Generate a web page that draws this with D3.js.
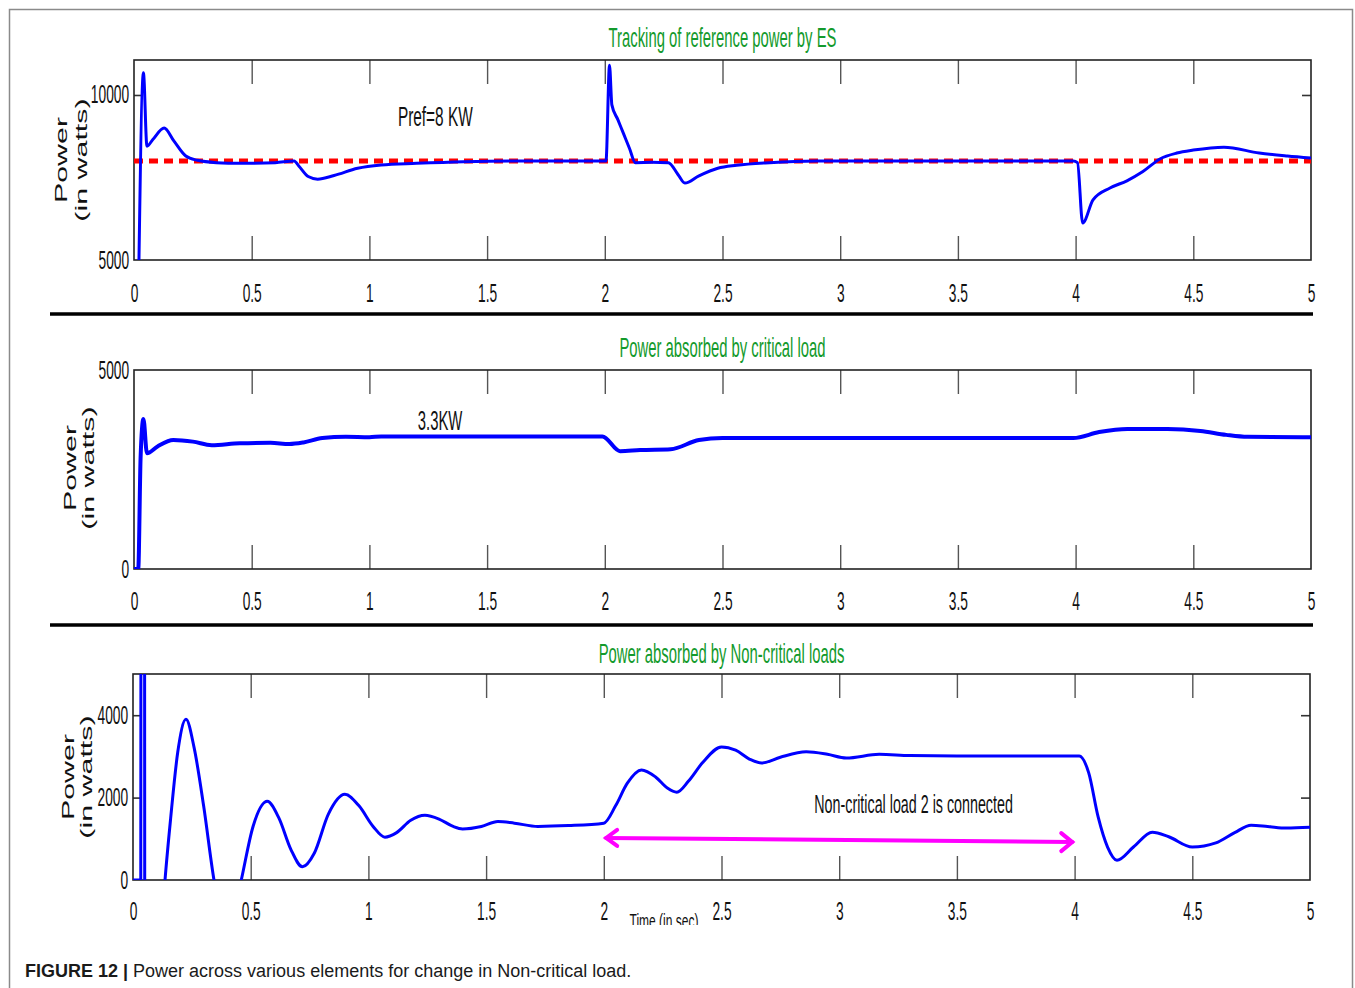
<!DOCTYPE html>
<html>
<head>
<meta charset="utf-8">
<script src="https://cdnjs.cloudflare.com/ajax/libs/d3/7.8.5/d3.min.js"></script>
<style>
    body { margin: 0; background: #fff; }
    svg { display: block; }
</style>
</head>
<body>
<svg id="chart" width="1355" height="988"></svg>
<script>
// time axis (seconds)
var timeTicks = [0, 0.5, 1, 1.5, 2, 2.5, 3, 3.5, 4, 4.5, 5];
var timeTickLabels = ["0", "0.5", "1", "1.5", "2", "2.5", "3", "3.5", "4", "4.5", "5"];

// ES power tracking the reference
var esTime = [0.02, 0.04, 0.055, 0.08, 0.128, 0.17, 0.22, 0.27, 0.35, 0.45, 0.6, 0.68, 0.70, 0.74, 0.78, 0.85, 0.95, 1.05, 1.2, 1.4, 1.6, 1.99,
    2.005, 2.02, 2.03, 2.055, 2.08, 2.105, 2.13, 2.2, 2.27, 2.31, 2.34, 2.40, 2.48, 2.56, 2.7, 2.9, 3.99,
    4.008, 4.03, 4.074, 4.146, 4.218, 4.286, 4.358, 4.43, 4.5, 4.63, 4.78, 4.9, 5.0];
var esPower = [4500, 10670, 8450, 8650, 9000, 8600, 8150, 8020, 7950, 7930, 7950, 8000, 7850, 7530, 7450, 7560, 7780, 7880, 7930, 7980, 8000, 8000,
    8000, 10900, 9700, 9260, 8820, 8380, 7950, 7960, 7950, 7600, 7330, 7550, 7780, 7870, 7950, 8000, 8000,
    7950, 6120, 6820, 7180, 7400, 7680, 8060, 8240, 8330, 8420, 8240, 8150, 8090];
var refTime = [0, 5];
var refPower = [8000, 8000];

// critical load
var criticalTime = [0, 0.018, 0.028, 0.04, 0.055, 0.1, 0.167, 0.25, 0.33, 0.45, 0.58, 0.66, 0.72, 0.80, 0.9, 1.0, 1.05, 1.99,
    2.065, 2.15, 2.28, 2.4, 2.5, 3.99, 4.1, 4.22, 4.39, 4.53, 4.64, 4.73, 5.0];
var criticalPower = [0, 0, 2800, 3770, 2910, 3080, 3240, 3200, 3110, 3160, 3170, 3140, 3180, 3290, 3320, 3310, 3330, 3330,
    2960, 2990, 3010, 3240, 3290, 3290, 3440, 3520, 3520, 3470, 3370, 3320, 3310];

// non-critical loads
var nonCriticalTime = [0, 0.033, 0.034, 0.049, 0.05, 0.09, 0.136, 0.16, 0.19, 0.225, 0.26, 0.30, 0.344, 0.40, 0.46, 0.51, 0.57, 0.62, 0.67, 0.72,
    0.77, 0.83, 0.90, 0.96, 1.02, 1.07, 1.12, 1.18, 1.24, 1.30, 1.36, 1.40, 1.48, 1.55, 1.62, 1.72, 1.85, 2.0,
    2.05, 2.1, 2.16, 2.22, 2.27, 2.31, 2.36, 2.42, 2.5, 2.56, 2.62, 2.67, 2.75, 2.86, 2.95, 3.03, 3.17, 3.3, 3.5, 4.02,
    4.06, 4.1, 4.14, 4.18, 4.25, 4.33, 4.4, 4.5, 4.6, 4.68, 4.75, 4.82, 4.9, 5.0];
var nonCriticalPower = [0, 0, 9000, 9000, -3000, -4000, 0, 1500, 3100, 3900, 3200, 1800, 0, -1500, 0, 1300, 1910, 1500, 750, 320,
    650, 1600, 2080, 1800, 1300, 1040, 1150, 1450, 1570, 1480, 1300, 1240, 1300, 1420, 1380, 1300, 1320, 1380,
    1800, 2350, 2670, 2500, 2230, 2130, 2400, 2850, 3230, 3150, 2930, 2840, 2980, 3110, 3050, 2960, 3050, 3020, 3010, 3010,
    2600, 1530, 800, 480, 800, 1160, 1050, 800, 900, 1150, 1330, 1300, 1260, 1280];

// y ticks
var esYTicks = [5000, 10000];
var criticalYTicks = [0, 5000];
var nonCriticalYTicks = [0, 2000, 4000];

// "load 2 connected" arrow
var arrowTime = [2.01, 3.99];
var arrowPower = [1020, 920];

var NARROW = "'Liberation Sans', Arial, sans-serif";
var SANS = "'Liberation Sans', Arial, sans-serif";
var SQUISH = 0.55;

var svg = d3.select("#chart");

function Panel(options) {

    var _self = this;

    _self.id = options.id;
    _self.left = options.left;
    _self.right = options.right;
    _self.top = options.top;
    _self.bottom = options.bottom;

    _self.x = d3.scaleLinear().domain([0, 5]).range([_self.left, _self.right]);
    _self.y = d3.scaleLinear().domain(options.yDomain).range([_self.bottom, _self.top]);

    _self.g = svg.append("g").attr("class", "panel " + _self.id);

    _self.g.append("clipPath")
        .attr("id", "clip-" + _self.id)
        .append("rect")
        .attr("x", _self.left)
        .attr("y", _self.top)
        .attr("width", _self.right - _self.left)
        .attr("height", _self.bottom - _self.top);
}

function styleAxisText(axisG, size) {
    axisG.select(".domain").remove();
    axisG.selectAll("text")
        .style("font-family", NARROW)
        .style("font-size", size + "px")
        .attr("fill", "#111")
        .attr("transform", "scale(" + SQUISH + ",1)");
}

Panel.prototype.drawAxes = function (yTicks, innerYTicks, labelPad) {

    var _self = this;
    var innerX = timeTicks.slice(1, timeTicks.length - 1);

    // inward ticks on top and bottom edges
    var topTicks = _self.g.append("g")
        .attr("transform", "translate(0," + _self.top + ")")
        .call(d3.axisTop(_self.x).tickValues(innerX).tickSize(-24).tickSizeOuter(0).tickFormat(""));
    var bottomTicks = _self.g.append("g")
        .attr("transform", "translate(0," + _self.bottom + ")")
        .call(d3.axisBottom(_self.x).tickValues(innerX).tickSize(-24).tickSizeOuter(0).tickFormat(""));

    [topTicks, bottomTicks].forEach(function (a) {
        a.select(".domain").remove();
        a.selectAll("line").attr("stroke", "#555").attr("stroke-width", 1.4);
    });

    if (innerYTicks.length) {
        var leftTicks = _self.g.append("g")
            .attr("transform", "translate(" + _self.left + ",0)")
            .call(d3.axisLeft(_self.y).tickValues(innerYTicks).tickSize(-9).tickFormat(""));
        var rightTicks = _self.g.append("g")
            .attr("transform", "translate(" + _self.right + ",0)")
            .call(d3.axisRight(_self.y).tickValues(innerYTicks).tickSize(-9).tickFormat(""));
        [leftTicks, rightTicks].forEach(function (a) {
            a.select(".domain").remove();
            a.selectAll("line").attr("stroke", "#333").attr("stroke-width", 1.6);
        });
    }

    // tick labels
    var xLabels = _self.g.append("g")
        .attr("transform", "translate(0," + _self.bottom + ")")
        .call(d3.axisBottom(_self.x).tickValues(timeTicks).tickSize(0).tickPadding(labelPad)
            .tickFormat(function (d, i) { return timeTickLabels[i]; }));
    styleAxisText(xLabels, 25);

    var yLabels = _self.g.append("g")
        .attr("transform", "translate(" + _self.left + ",0)")
        .call(d3.axisLeft(_self.y).tickValues(yTicks).tickSize(0).tickPadding(9)
            .tickFormat(d3.format("d")));
    styleAxisText(yLabels, 25);

    // the box
    _self.g.append("rect")
        .attr("x", _self.left)
        .attr("y", _self.top)
        .attr("width", _self.right - _self.left)
        .attr("height", _self.bottom - _self.top)
        .attr("fill", "none")
        .attr("stroke", "#222")
        .attr("stroke-width", 1.6);
};

Panel.prototype.drawLine = function (time, values, color, width, dash, curve) {

    var _self = this;

    var line = d3.line()
        .x(function (d) { return _self.x(d[0]); })
        .y(function (d) { return _self.y(d[1]); })
        .curve(curve || d3.curveMonotoneX);

    _self.g.append("path")
        .datum(d3.zip(time, values))
        .attr("clip-path", "url(#clip-" + _self.id + ")")
        .attr("d", line)
        .attr("fill", "none")
        .attr("stroke", color)
        .attr("stroke-width", width)
        .attr("stroke-dasharray", dash || null)
        .attr("stroke-linejoin", "round");
};

Panel.prototype.title = function (text, y) {
    var _self = this;
    _self.g.append("text")
        .attr("transform", "translate(" + ((_self.left + _self.right) / 2) + "," + y + ") scale(" + SQUISH + ",1)")
        .attr("text-anchor", "middle")
        .style("font-family", NARROW)
        .style("font-size", "27px")
        .attr("fill", "#139a2c")
        .text(text);
};

Panel.prototype.note = function (text, t, v, size) {
    var _self = this;
    _self.g.append("text")
        .attr("transform", "translate(" + _self.x(t) + "," + _self.y(v) + ") scale(" + SQUISH + ",1)")
        .attr("text-anchor", "middle")
        .style("font-family", NARROW)
        .style("font-size", size + "px")
        .attr("fill", "#111")
        .text(text);
};

Panel.prototype.yLabel = function (x1, x2, cy) {
    var _self = this;
    [["Power", x1], ["(in watts)", x2]].forEach(function (p) {
        _self.g.append("text")
            .attr("transform", "translate(" + p[1] + "," + cy + ") rotate(-90) scale(1.9,1)")
            .attr("text-anchor", "middle")
            .style("font-family", SANS)
            .style("font-size", "16px")
            .attr("fill", "#111")
            .text(p[0]);
    });
};

// outer frame
svg.append("rect")
    .attr("x", 9.5).attr("y", 9.5)
    .attr("width", 1343).attr("height", 1000)
    .attr("fill", "none")
    .attr("stroke", "#8a8a8a")
    .attr("stroke-width", 1.5);

// panel 1
var es = new Panel({ id: "es", left: 134, right: 1311, top: 60, bottom: 260, yDomain: [5000, 11060] });
es.drawAxes(esYTicks, [10000], 24);
es.drawLine(refTime, refPower, "#ff0000", 5, "9,6", d3.curveLinear);
es.drawLine(esTime, esPower, "#0000ff", 3);
es.title("Tracking of reference power by ES", 47);
es.note("Pref=8 KW", 1.28, 9060, 28);
es.yLabel(67, 87, 160);

// panel 2
var critical = new Panel({ id: "crit", left: 134, right: 1311, top: 370, bottom: 569, yDomain: [0, 5000] });
critical.drawAxes(criticalYTicks, [], 23);
critical.drawLine(criticalTime, criticalPower, "#0000ff", 4);
critical.title("Power absorbed by critical load", 357);
critical.note("3.3KW", 1.3, 3500, 27);
critical.yLabel(76, 94, 468);

// panel 3
var nonCritical = new Panel({ id: "ncrit", left: 133, right: 1310, top: 674, bottom: 880, yDomain: [0, 5000] });
nonCritical.drawAxes(nonCriticalYTicks, [2000, 4000], 22);
nonCritical.drawLine(nonCriticalTime, nonCriticalPower, "#0000ff", 3);
nonCritical.title("Power absorbed by Non-critical loads", 663);
nonCritical.note("Non-critical load 2 is connected", 3.316, 1630, 26);
nonCritical.yLabel(74, 92, 777);

// magenta double arrow
var ax0 = nonCritical.x(arrowTime[0]), ay0 = nonCritical.y(arrowPower[0]);
var ax1 = nonCritical.x(arrowTime[1]), ay1 = nonCritical.y(arrowPower[1]);
var arrow = nonCritical.g.append("g")
    .attr("fill", "none")
    .attr("stroke", "#ff00ff")
    .attr("stroke-width", 4)
    .attr("stroke-linecap", "round");
arrow.append("line").attr("x1", ax0).attr("y1", ay0).attr("x2", ax1).attr("y2", ay1);
arrow.append("path").attr("d", "M" + (ax0 + 11) + "," + (ay0 - 8) + "L" + ax0 + "," + ay0 + "L" + (ax0 + 11) + "," + (ay0 + 8));
arrow.append("path").attr("d", "M" + (ax1 - 11) + "," + (ay1 - 9) + "L" + ax1 + "," + ay1 + "L" + (ax1 - 11) + "," + (ay1 + 9));

// x axis title, cut off at the bottom like the original
var TIME_SQUISH = 0.6;
svg.append("clipPath").attr("id", "clip-time")
    .append("rect")
    .attr("x", 600 / TIME_SQUISH).attr("y", 890)
    .attr("width", 150 / TIME_SQUISH).attr("height", 35);
svg.append("text")
    .attr("clip-path", "url(#clip-time)")
    .attr("transform", "scale(" + TIME_SQUISH + ",1)")
    .attr("x", 664 / TIME_SQUISH).attr("y", 928)
    .attr("text-anchor", "middle")
    .style("font-family", NARROW)
    .style("font-size", "20px")
    .attr("fill", "#111")
    .text("Time (in sec)");

// separators
[314, 625].forEach(function (y) {
    svg.append("line")
        .attr("x1", 50).attr("x2", 1313)
        .attr("y1", y).attr("y2", y)
        .attr("stroke", "#000")
        .attr("stroke-width", 3.5);
});

// caption
var caption = svg.append("text")
    .attr("x", 25).attr("y", 977)
    .style("font-family", SANS)
    .style("font-size", "18px")
    .attr("fill", "#1a1a1a");
caption.append("tspan").style("font-weight", "bold").text("FIGURE 12 | ");
caption.append("tspan").text("Power across various elements for change in Non-critical load.");
</script>
</body>
</html>
